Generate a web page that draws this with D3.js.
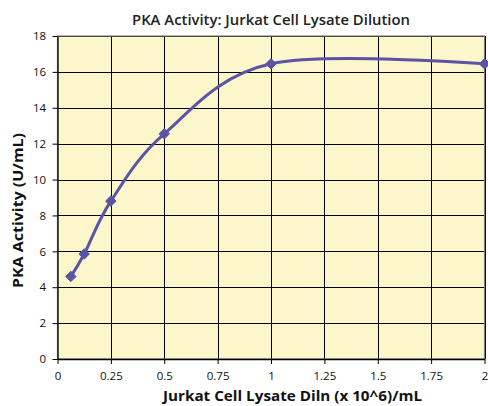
<!DOCTYPE html>
<html><head><meta charset="utf-8">
<script src="https://cdn.jsdelivr.net/npm/d3@7"></script>
<style>body{margin:0;background:#fff;} svg{display:block;font-family:"Open Sans",Lato,sans-serif;}</style>
</head><body>
<svg id="c" width="488" height="406"></svg>
<script>
const xValues = [0.0625, 0.125, 0.25, 0.5, 1, 2];
const yValues = [4.6, 5.85, 8.8, 12.55, 16.45, 16.45];
const xTicks = [0, 0.25, 0.5, 0.75, 1, 1.25, 1.5, 1.75, 2];
const xTickLabels = ["0", "0.25", "0.5", "0.75", "1", "1.25", "1.5", "1.75", "2"];
const yTicks = [0, 2, 4, 6, 8, 10, 12, 14, 16, 18];
const title = "PKA Activity: Jurkat Cell Lysate Dilution";
const xTitle = "Jurkat Cell Lysate Diln (x 10^6)/mL";
const yTitle = "PKA Activity (U/mL)";

const svg = d3.select("#c");
const L = 57.5, R = 484.5, T = 36, B = 359;
const x = d3.scaleLinear().domain([0, 2]).range([L, R]);
const y = d3.scaleLinear().domain([0, 18]).range([B, T]);

svg.append("rect").attr("x", L).attr("y", T).attr("width", R - L).attr("height", B - T).attr("fill", "#FBF7CB");

const g = svg.append("g");
g.selectAll("line.h").data(yTicks.slice(1)).join("line")
  .attr("x1", L).attr("x2", R).attr("y1", d => Math.round(y(d)) + 0.5).attr("y2", d => Math.round(y(d)) + 0.5)
  .attr("stroke", "#000").attr("stroke-width", 1);
g.selectAll("line.v").data(xTicks.slice(1)).join("line")
  .attr("y1", T).attr("y2", B).attr("x1", d => Math.round(x(d)) + 0.5).attr("x2", d => Math.round(x(d)) + 0.5)
  .attr("stroke", "#000").attr("stroke-width", 1);
svg.append("rect").attr("x", L).attr("y", T).attr("width", R - L).attr("height", B - T)
  .attr("fill", "none").attr("stroke", "#808080").attr("stroke-width", 1.2);

const xAxis = svg.append("g").attr("transform", `translate(0,${B})`)
  .call(d3.axisBottom(x).tickValues(xTicks).tickFormat((d, i) => xTickLabels[i]).tickSize(5).tickSizeOuter(0));
const yAxis = svg.append("g").attr("transform", `translate(${L},0)`)
  .call(d3.axisLeft(y).tickValues(yTicks).tickSize(5).tickSizeOuter(0));
[xAxis, yAxis].forEach(a => {
  a.select(".domain").attr("stroke", "#000").attr("stroke-width", 1.3);
  a.selectAll(".tick line").attr("stroke", "#000");
  a.selectAll("text").attr("font-size", 11.5).attr("fill", "#111").attr("font-family", "\"Open Sans\",sans-serif");
});
xAxis.selectAll("text").attr("dy", "1.15em");
yAxis.selectAll("text").attr("dx", "-0.3em");

const pts = xValues.map((v, i) => [x(v), y(yValues[i])]);
const line = d3.line().curve(d3.curveCardinal.tension(0));
svg.append("path").attr("d", line(pts)).attr("fill", "none").attr("stroke", "#5A54A6").attr("stroke-width", 3);
svg.selectAll("path.m").data(pts).join("path")
  .attr("transform", d => `translate(${d[0]},${d[1]})`)
  .attr("d", d3.symbol(d3.symbolDiamond2, 70)())
  .attr("fill", "#5A54A6").attr("stroke", "#5A54A6").attr("stroke-width", 1);

svg.append("text").attr("x", 132).attr("y", 25)
  .attr("textLength", 278).attr("lengthAdjust", "spacingAndGlyphs")
  .attr("font-size", 14).attr("font-weight", 600).attr("fill", "#222").text(title);
svg.append("text").attr("x", 163).attr("y", 401)
  .attr("textLength", 259).attr("lengthAdjust", "spacingAndGlyphs")
  .attr("font-size", 13.5).attr("font-weight", 700).attr("fill", "#111").text(xTitle);
svg.append("text").attr("transform", `translate(23,288) rotate(-90)`)
  .attr("textLength", 155).attr("lengthAdjust", "spacingAndGlyphs")
  .attr("font-size", 13.5).attr("font-weight", 700).attr("fill", "#111").text(yTitle);
</script>
</body></html>
